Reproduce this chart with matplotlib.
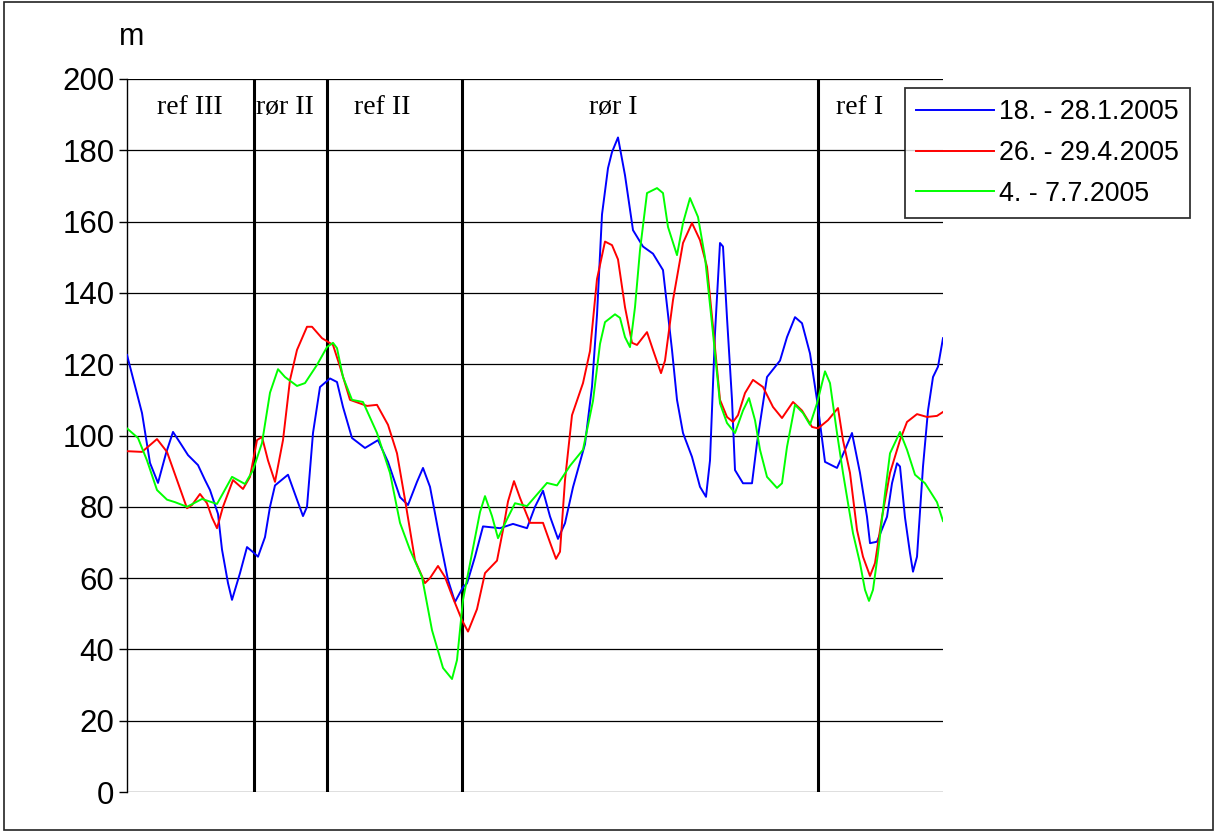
import matplotlib.pyplot as plt
from matplotlib.patches import Rectangle

# --- Measurements along the route (position along the section, value in m) ---
jan_pos = [0, 15, 23, 31, 39, 46, 53, 61, 71, 78, 83, 91, 95, 101, 105, 113, 120, 126,
           131, 138, 143, 148, 161, 170, 176, 180, 186, 193, 203, 210, 216, 225, 238,
           251, 261, 273, 281, 290, 296, 303, 313, 321, 328, 336, 340, 348, 356, 373,
           386, 400, 408, 416, 423, 431, 438, 446, 458, 465, 470, 475, 481, 485, 491,
           498, 506, 516, 526, 536, 545, 550, 556, 565, 573, 579, 583, 588, 593, 596,
           600, 605, 608, 616, 625, 630, 640, 653, 660, 668, 675, 683, 690, 698, 710,
           718, 725, 733, 740, 743, 750, 760, 765, 770, 773, 778, 783, 786, 790, 796,
           801, 806, 811, 816]
jan_val = [122.6, 106.3, 92.3, 86.7, 95, 101, 98, 94.5, 91.7, 87.5, 84.7, 78, 68, 58.6,
           53.9, 61.4, 68.7, 67.3, 66, 71.5, 80, 86, 89, 82, 77.4, 80, 100.7, 113.6, 116,
           115, 108, 99.3, 96.5, 98.7, 92.6, 82.7, 80.5, 87, 90.9, 85.6, 70.7, 59.5, 53.3,
           57.5, 58.5, 66, 74.5, 74, 75.2, 74, 80, 84.5, 77.3, 71, 75.4, 85.5, 97.6, 113.7,
           133.8, 162, 175, 179.5, 183.6, 173, 157.6, 153, 151, 146.4, 124, 110, 100.7, 94,
           85.6, 82.8, 93, 128.7, 154, 153, 133, 110, 90.3, 86.6, 86.6, 97.9, 116.4, 121,
           127.6, 133.2, 131.5, 123, 110, 92.6, 90.9, 96, 100.7, 89.5, 77.2, 69.8, 70.2,
           77.2, 86.6, 92.2, 91.3, 77, 67, 61.8, 66, 91.3, 107, 116.4, 119.3, 127.3]

apr_pos = [0, 15, 30, 40, 50, 60, 65, 73, 80, 85, 90, 96, 106, 116, 123, 130, 135, 141,
           148, 156, 163, 170, 180, 185, 195, 206, 213, 223, 240, 250, 261, 270, 278, 288,
           298, 303, 311, 318, 326, 335, 341, 350, 358, 370, 376, 381, 387, 393, 403, 416,
           423, 429, 433, 438, 445, 456, 463, 470, 478, 485, 491, 498, 505, 510, 520, 526,
           534, 538, 546, 556, 565, 573, 580, 586, 593, 600, 606, 611, 618, 626, 636, 646,
           655, 666, 675, 685, 691, 701, 711, 716, 723, 730, 736, 743, 748, 755, 763, 773,
           780, 790, 800, 810, 816]
apr_val = [95.6, 95.4, 99, 95.4, 87.5, 79.6, 80.5, 83.6, 81, 77, 74, 80, 87.5, 85, 88.4,
           98.7, 99.6, 93, 87, 98.7, 115.6, 124, 130.5, 130.5, 127.3, 125.4, 119.3, 110,
           108.3, 108.6, 103, 95, 82, 65, 58.6, 60, 63.4, 60.3, 54.4, 48.2, 45, 51.3, 61.4,
           64.9, 73.5, 81.5, 87.2, 82.5, 75.5, 75.5, 70, 65.4, 67.4, 87.5, 105.7, 114.7,
           123.7, 143.9, 154.4, 153.4, 149.4, 136, 126, 125.4, 129, 124, 117.5, 121, 138,
           154, 159.6, 154.8, 147.3, 130.5, 110, 105.2, 103.8, 105.7, 111.9, 115.6, 113.6,
           108, 104.9, 109.4, 107, 102.4, 102, 104.3, 107.7, 98.7, 89.5, 73.5, 66, 60.6,
           64.2, 77.1, 89.5, 98.7, 103.8, 106, 105.2, 105.5, 106.6]

jul_pos = [0, 11, 20, 30, 40, 48, 60, 75, 90, 96, 105, 118, 126, 135, 143, 151, 158, 170,
           178, 190, 200, 206, 210, 216, 225, 236, 250, 263, 273, 283, 295, 305, 316, 325,
           330, 336, 346, 353, 358, 365, 371, 380, 388, 400, 420, 430, 443, 456, 466, 473,
           478, 488, 493, 498, 503, 508, 513, 520, 530, 536, 541, 550, 556, 563, 571, 578,
           586, 593, 600, 608, 616, 622, 628, 633, 640, 650, 655, 660, 668, 676, 683, 690,
           698, 703, 710, 716, 726, 733, 738, 742, 746, 751, 758, 763, 773, 780, 788, 798,
           810, 816]
jul_val = [102, 99.3, 93, 84.7, 82, 81.3, 80, 82.2, 80.8, 83.8, 88.4, 86.4, 90.3, 97.9,
           112, 118.6, 116.4, 113.9, 114.7, 119.8, 124.8, 126, 124.5, 116.4, 110, 109.4,
           100.7, 89.5, 75.5, 67.9, 60.3, 45.4, 34.8, 31.7, 37, 53.9, 68.4, 78.5, 83, 77.4,
           71.2, 76.5, 81, 80.2, 86.7, 86, 91.5, 96, 109.7, 125.7, 131.8, 134, 133, 127.6,
           124.8, 136, 152, 168, 169.4, 168, 158.5, 150.6, 159.6, 166.6, 161.3, 150, 128.7,
           109, 103.5, 100.7, 107, 110.5, 104.3, 96, 88.4, 85.3, 86.6, 96.8, 108.6, 106.3,
           103, 109, 118, 114.7, 100.7, 89.5, 72.6, 64.2, 56.7, 53.6, 56.7, 67, 83.8, 95,
           101, 96, 89, 86.6, 81.3, 76]

series_labels = ["18. - 28.1.2005", "26. - 29.4.2005", "4. - 7.7.2005"]
series_colors = ["#0000ff", "#ff0000", "#00ff00"]

# section boundaries and section names
boundaries = [127, 200, 334.5, 690.5]
section_names = ["ref III", "rør II", "ref II", "rør I", "ref I"]
section_name_pos = [63, 158, 255, 486, 733]

plt.rcParams['font.family'] = ['Liberation Sans', 'DejaVu Sans']

fig = plt.figure(figsize=(12.15, 8.32), dpi=100)
ax = fig.add_axes([127 / 1215, 1 - 792 / 832, 816 / 1215, 713 / 832])

ax.set_xlim(0, 816)
ax.set_ylim(0, 200)
ax.set_yticks(range(0, 201, 20))
ax.set_xticks([])
ax.tick_params(axis='y', labelsize=22.5, length=6, width=1, pad=3, direction='out')

for s in ['top', 'right', 'bottom']:
    ax.spines[s].set_visible(False)
ax.spines['left'].set_linewidth(1)

for v in range(0, 201, 20):
    ax.axhline(v, color='black', linewidth=0.9, zorder=1)

for b in boundaries:
    ax.axvline(b, color='black', linewidth=2.2, zorder=2)

for name, xp in zip(section_names, section_name_pos):
    ax.text(xp, 192, name, ha='center', va='center', fontsize=20,
            family=['Liberation Serif', 'DejaVu Serif'])

for pos, val, lab, col in zip([jan_pos, apr_pos, jul_pos],
                              [jan_val, apr_val, jul_val],
                              series_labels, series_colors):
    ax.plot(pos, val, color=col, linewidth=1.4, label=lab, zorder=3)

leg = ax.legend(loc='upper left', bbox_to_anchor=(905 / 1215, 1 - 88 / 832),
                bbox_transform=fig.transFigure, fontsize=19.3, frameon=True,
                fancybox=False, handlelength=2.9, handletextpad=0.2,
                labelspacing=0.55, borderpad=0.42, borderaxespad=0)
leg.get_frame().set_edgecolor('black')
leg.get_frame().set_linewidth(1.3)

fig.text(132 / 1215, 1 - 37 / 832, "m", ha='center', va='center', fontsize=22)

fig.patches.append(Rectangle((4 / 1215, 2 / 832), 1209 / 1215, 828 / 832,
                             transform=fig.transFigure, fill=False,
                             edgecolor='#222222', linewidth=1.2))

fig.savefig("out.png", dpi=100)
